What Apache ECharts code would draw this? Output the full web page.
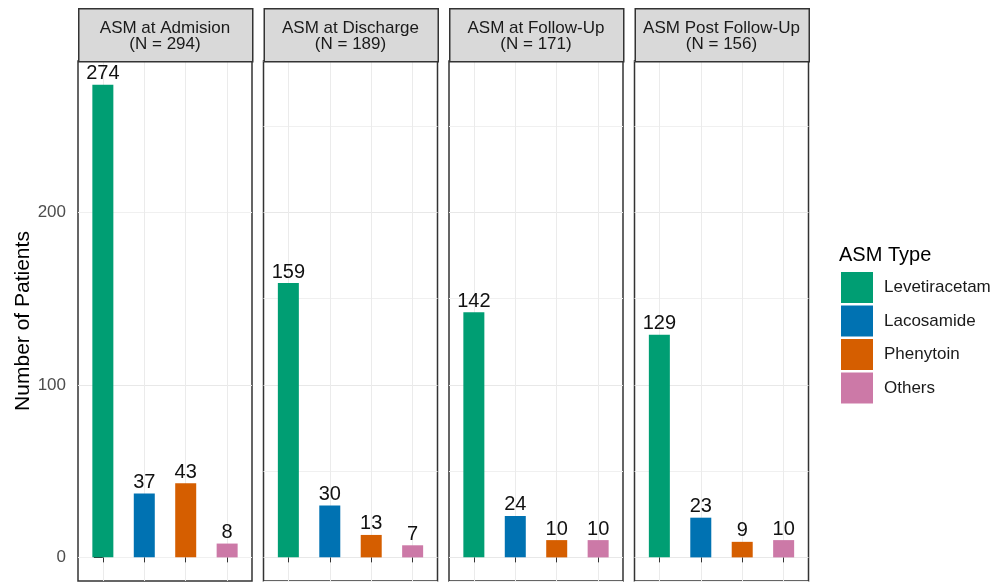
<!DOCTYPE html>
<html><head><meta charset="utf-8">
<script src="https://cdn.jsdelivr.net/npm/echarts@6/dist/echarts.min.js"></script>
<style>html,body{margin:0;padding:0;background:#fff}#c{width:998px;height:584px}</style>
</head><body><div id="c"></div>
<script>
// ---- data ----
const asmTypes = ['Levetiracetam', 'Lacosamide', 'Phenytoin', 'Others'];
const facetTitles = ['ASM at Admision', 'ASM at Discharge', 'ASM at Follow-Up', 'ASM Post Follow-Up'];
const facetN = [294, 189, 171, 156];
const admission = [274, 37, 43, 8];
const discharge = [159, 30, 13, 7];
const followUp = [142, 24, 10, 10];
const postFollowUp = [129, 23, 9, 10];
const yTickValues = [0, 100, 200];
const legendTitle = 'ASM Type';
const yTitle = 'Number of Patients';

// ---- styling / layout ----
const colors = ['#009E73', '#0072B2', '#D55E00', '#CC79A7'];
const FONT = '"Liberation Sans", Arial, sans-serif';
const facetValues = [admission, discharge, followUp, postFollowUp];
const panelLeft = [78, 263.5, 449, 634.5];
const panelW = 174;
const stripTop = 8, stripH = 53;
const panelTop = stripTop + stripH, panelBottomY = 581;
const panelH = panelBottomY - panelTop;

const dataMax = Math.max(...facetValues.flat());
const yMin = -0.05 * dataMax, yMax = 1.05 * dataMax;

const grids = [], xAxes = [], yAxes = [], series = [], graphics = [];
facetValues.forEach((vals, f) => {
  grids.push({
    left: panelLeft[f], top: panelTop, width: panelW, height: panelH,
    show: true, backgroundColor: '#fff', borderColor: '#333333', borderWidth: 1.5,
    containLabel: false
  });
  xAxes.push({
    type: 'value', gridIndex: f, min: -0.6, max: asmTypes.length - 0.4,
    axisLine: { show: false },
    axisTick: { show: true, length: 5, lineStyle: { color: '#333' }, customValues: asmTypes.map((_, i) => i) },
    axisLabel: { show: false },
    splitLine: { show: true, lineStyle: { color: '#ebebeb', width: 1 } }
  });
  yAxes.push({
    type: 'value', gridIndex: f, min: yMin, max: yMax,
    axisLine: { show: false },
    axisTick: f === 0 ? { show: true, length: 9, lineStyle: { color: '#333' }, customValues: yTickValues } : { show: false },
    axisLabel: f === 0 ? {
      show: true, customValues: yTickValues, fontSize: 17, color: '#4d4d4d', fontFamily: FONT, margin: 12,
      formatter: v => (yTickValues.includes(v) ? String(v) : '')
    } : { show: false },
    splitLine: { show: true, lineStyle: { color: ['#f0f0f0', '#e8e8e8'], width: 1 } },
    name: f === 0 ? yTitle : '',
    nameLocation: 'middle', nameRotate: 90, nameGap: 43,
    nameTextStyle: { fontSize: 21, color: '#000', fontFamily: FONT }
  });
  vals.forEach((v, t) => {
    series.push({
      type: 'bar', name: asmTypes[t], xAxisIndex: f, yAxisIndex: f,
      data: [[t, v]], barWidth: 21, barGap: '-100%',
      itemStyle: { color: colors[t] },
      label: { show: true, position: 'top', distance: 1, fontSize: 20, color: '#111', fontFamily: FONT },
      emphasis: { disabled: true }
    });
  });
  graphics.push({
    type: 'rect', left: panelLeft[f], top: stripTop, z: 10,
    shape: { width: panelW, height: stripH },
    style: { fill: '#d9d9d9', stroke: '#333333', lineWidth: 1.5 }
  });
  graphics.push({
    type: 'text', x: panelLeft[f] + panelW / 2, y: stripTop + stripH / 2 + 1.5, z: 11,
    style: {
      text: facetTitles[f] + '\n(N = ' + facetN[f] + ')',
      textAlign: 'center', textVerticalAlign: 'middle',
      font: '17px ' + FONT, lineHeight: 16, fill: '#1a1a1a'
    }
  });
});

const chart = echarts.init(document.getElementById('c'), null, { renderer: 'canvas' });
chart.setOption({
  animation: false,
  backgroundColor: '#fff',
  title: {
    text: legendTitle, left: 839, top: 245, padding: 0,
    textStyle: { fontSize: 20, fontWeight: 'normal', color: '#000', fontFamily: FONT }
  },
  legend: {
    data: asmTypes, orient: 'vertical', left: 841, top: 272, padding: 0,
    itemWidth: 32, itemHeight: 31, itemGap: 2.5, icon: 'rect',
    selectedMode: false,
    textStyle: { fontSize: 17, color: '#1a1a1a', fontFamily: FONT, padding: [0, 0, 0, 6] }
  },
  grid: grids, xAxis: xAxes, yAxis: yAxes, series: series,
  graphic: graphics
});
</script></body></html>
